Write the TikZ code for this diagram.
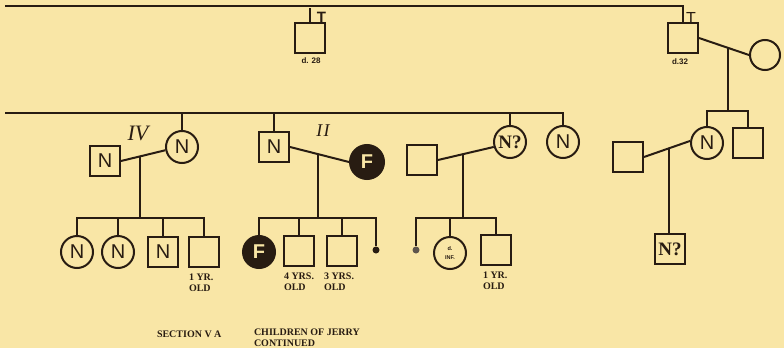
\documentclass[tikz,border=0pt]{standalone}
\usepackage{fontspec}
\usepackage{tikz}
\usetikzlibrary{calc}
\newfontfamily\pedsans{Liberation Sans}
\newfontfamily\pedserif{Liberation Serif}
\definecolor{ink}{RGB}{40,28,18}
\definecolor{paper}{RGB}{249,230,166}

\begin{document}
\begin{tikzpicture}[x=1pt,y=-1pt,line width=2pt,color=ink,
  sq/.style={rectangle,draw,minimum size=30pt,inner sep=0pt,font=\pedsans\fontsize{20}{20}\selectfont},
  ci/.style={circle,draw,minimum size=32pt,inner sep=0pt,font=\pedsans\fontsize{20}{20}\selectfont},
  aff/.style={ci,fill=ink,text=paper,font=\pedsans\bfseries\fontsize{20}{20}\selectfont},
  dot/.style={circle,fill=ink,minimum size=7pt,inner sep=0pt},
  qq/.style={font=\pedserif\bfseries\fontsize{19}{19}\selectfont},
  note/.style={font=\pedserif\bfseries\fontsize{10}{11}\selectfont,align=left,inner sep=0pt},
  tag/.style={font=\pedsans\bfseries\fontsize{8}{8}\selectfont,inner sep=0pt},
  gen/.style={font=\pedserif\itshape\fontsize{22}{22}\selectfont,inner sep=0pt}]
  \path[fill=paper] (0,0) rectangle (784,348);

  % upper line
  \coordinate (l1w) at (5,6);
  \node[sq] (dA) at (310,38) {};
  \node[sq] (dB) at (683,38) {};
  \node[ci,minimum size=30pt] (wB) at (765,55) {};
  \node[tag] (dAl) at (311,61) {d. 28};
  \node[tag] (dBl) at (680,62) {d.32};
  \node[font=\pedsans\bfseries\fontsize{15}{15}\selectfont,inner sep=0pt] (tA) at (321.5,17.5) {T};
  \node[font=\pedsans\fontsize{16}{16}\selectfont,inner sep=0pt] (tB) at (691,18) {T};
  \coordinate (uA) at (310,8);
  \draw[line width=2.6pt] (l1w) -- (l1w -| dB.north) -- (dB.north);
  \draw (uA) -- (dA.north);

  % right family
  \draw (dB.east) -- (wB.west);
  \coordinate (mB) at ($(dB.east)!0.58!(wB.west)$);
  \coordinate (sibB) at (728,111);
  \node[ci] (wV) at (707,143) {N};
  \node[sq] (bV) at (748,143) {};
  \node[sq] (hV) at (628,157) {};
  \node[sq,qq] (cV) at (670,249) {N?};
  \draw (mB) -- (mB |- sibB);
  \draw (wV.north) -- (wV.north |- sibB) -- (bV.north |- sibB) -- (bV.north);
  \draw (hV.east) -- (wV.173);
  \coordinate (mV) at ($(hV.east)!0.55!(wV.173)$);
  \draw (mV) -- (mV |- cV.north);

  % lower line
  \coordinate (l2w) at (5,113);
  \coordinate (sib1) at (0,218);

  % family IV
  \node[sq] (hIV) at (105,161) {N};
  \node[ci] (wIV) at (182,147) {N};
  \node[gen] (gIV) at (138,133) {IV};
  \draw (hIV.east) -- (wIV.191);
  \coordinate (mIV) at ($(hIV.east)!0.43!(wIV.191)$);
  \node[ci] (c11) at (77,252) {N};
  \node[ci] (c12) at (118,252) {N};
  \node[sq] (c13) at (163,252) {N};
  \node[sq] (c14) at (204,252) {};
  \draw (mIV) -- (mIV |- sib1);
  \draw (c11.north) -- (c11.north |- sib1) -- (c14.north |- sib1) -- (c14.north);
  \foreach \c in {c12,c13} \draw (\c.north) -- (\c.north |- sib1);
  \node[note,anchor=north west] (a14) at ([yshift=-5pt]c14.south west) {1 YR.\\OLD};

  % family II
  \node[sq] (hII) at (274,147) {N};
  \node[aff,minimum size=34pt] (wII) at (367,162) {F};
  \node[gen,font=\pedserif\itshape\fontsize{18}{18}\selectfont] (gII) at (323,131) {I\kern1.5pt I};
  \draw (hII.east) -- (wII.west);
  \coordinate (mII) at ($(hII.east)!0.48!(wII.west)$);
  \node[aff] (c21) at (259,252) {F};
  \node[sq] (c22) at (299,251) {};
  \node[sq] (c23) at (342,251) {};
  \node[dot] (c24) at (376,250) {};
  \draw (mII) -- (mII |- sib1);
  \draw (c21.north) -- (c21.north |- sib1) -- (c24.north |- sib1) -- (c24.north);
  \foreach \c in {c22,c23} \draw (\c.north) -- (\c.north |- sib1);
  \node[note,anchor=north west] (a22) at ([yshift=-5pt]c22.south west) {4 YRS.\\OLD};
  \node[note,anchor=north west] (a23) at ([xshift=-3pt,yshift=-5pt]c23.south west) {3 YRS.\\OLD};

  % family III
  \node[sq] (hIII) at (422,160) {};
  \node[ci,qq] (wIII) at (510,142) {N?};
  \node[ci] (sIII) at (563,142) {N};
  \draw (hIII.east) -- (wIII.197);
  \coordinate (mIII) at ($(hIII.east)!0.44!(wIII.197)$);
  \node[dot,fill=ink!75] (c31) at (416,250) {};
  \node[ci,align=center,font=\pedsans\bfseries\fontsize{5.5}{8.5}\selectfont] (c32) at (450,253) {d.\\INF.};
  \node[sq] (c33) at (496,250) {};
  \draw (mIII) -- (mIII |- sib1);
  \draw (c31.north) -- (c31.north |- sib1) -- (c33.north |- sib1) -- (c33.north);
  \draw (c32.north) -- (c32.north |- sib1);
  \node[note,anchor=north west] (a33) at ([xshift=2pt,yshift=-5pt]c33.south west) {1 YR.\\OLD};

  \draw[line width=2.6pt] (l2w) -- (l2w -| sIII.north) -- (sIII.north);
  \foreach \c in {wIV,hII,wIII} \draw (\c.north) -- (\c.north |- l2w);

  % captions
  \node[note,anchor=west] (secA) at (156,334) {SECTION V A};
  \node[note,anchor=north west] (jerry) at (253,327.5) {CHILDREN OF JERRY\\CONTINUED};
\end{tikzpicture}
\end{document}
